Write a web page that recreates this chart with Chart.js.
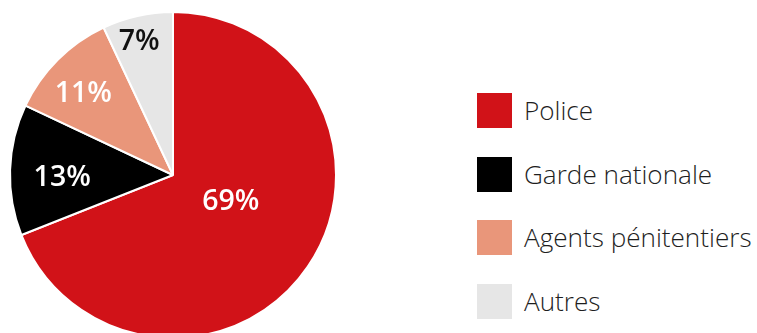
<!DOCTYPE html>
<html lang="fr">
<head>
<meta charset="utf-8">
<script src="https://cdn.jsdelivr.net/npm/chart.js@4.4.1/dist/chart.umd.min.js"></script>
<style>
  html, body { margin: 0; padding: 0; background: #fff; }
  body { width: 757px; height: 333px; overflow: hidden; position: relative; font-family: "Open Sans", sans-serif; }
  #pieWrap { position: absolute; left: -1px; top: 1px; width: 348px; height: 348px; }
  #legend { position: absolute; left: 477px; top: 93px; margin: 0; padding: 0; list-style: none; }
  #legend li { display: flex; align-items: center; height: 35px; margin-bottom: 28.5px; }
  #legend .box { width: 35px; height: 35px; margin-right: 12px; flex: none; }
  #legend .txt { font-size: 26.1px; font-weight: 300; color: #1e1e1e; white-space: nowrap; line-height: 1; }
</style>
</head>
<body>
<div id="pieWrap"><canvas id="pie"></canvas></div>
<ul id="legend"></ul>
<script>
const categories = ['Police', 'Garde nationale', 'Agents pénitentiers', 'Autres'];
const shares = [69, 13, 11, 7];
const sliceColors = ['#d11218', '#000000', '#e9967a', '#e6e6e6'];
const labelColors = ['#ffffff', '#ffffff', '#ffffff', '#111111'];
// where each percentage sits: fraction of the radius, and a small turn (degrees) off the slice middle
const labelRadius = [0.39, 0.68, 0.74, 0.84];
const labelTurn = [-9.5, -3.5, -3, -1.7];

const sliceLabels = {
  id: 'sliceLabels',
  afterDatasetsDraw(chart) {
    const ctx = chart.ctx;
    const meta = chart.getDatasetMeta(0);
    ctx.save();
    ctx.font = '600 28.5px "Open Sans", sans-serif';
    ctx.textAlign = 'center';
    ctx.textBaseline = 'middle';
    meta.data.forEach((arc, i) => {
      const p = arc.getProps(['x', 'y', 'startAngle', 'endAngle', 'outerRadius'], true);
      const mid = (p.startAngle + p.endAngle) / 2 + labelTurn[i] * Math.PI / 180;
      const r = p.outerRadius * labelRadius[i];
      ctx.fillStyle = labelColors[i];
      ctx.fillText(shares[i] + '%', p.x + Math.cos(mid) * r, p.y + Math.sin(mid) * r);
    });
    ctx.restore();
  }
};

new Chart(document.getElementById('pie'), {
  type: 'pie',
  data: {
    labels: categories,
    datasets: [{
      data: shares,
      backgroundColor: sliceColors,
      borderColor: '#ffffff',
      borderWidth: 2
    }]
  },
  options: {
    responsive: true,
    maintainAspectRatio: false,
    animation: false,
    layout: { padding: 10 },
    plugins: {
      legend: { display: false },
      tooltip: { enabled: false }
    }
  },
  plugins: [sliceLabels]
});

const legend = document.getElementById('legend');
categories.forEach((name, i) => {
  const li = document.createElement('li');
  li.innerHTML = '<span class="box" style="background:' + sliceColors[i] + '"></span><span class="txt">' + name + '</span>';
  legend.appendChild(li);
});
</script>
</body>
</html>
